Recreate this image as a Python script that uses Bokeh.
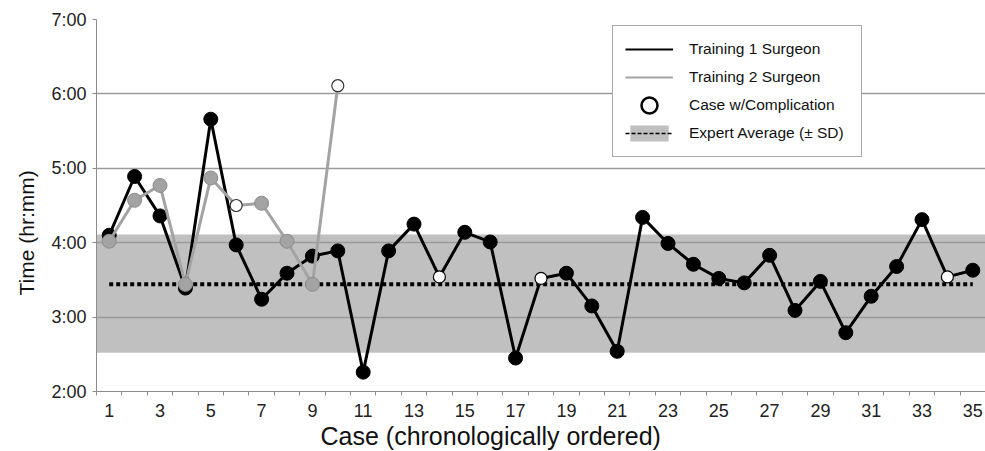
from bokeh.plotting import figure
from bokeh.models import (ColumnDataSource, FixedTicker, Legend, LegendItem, Range1d, Title)
from bokeh.embed import file_html
from bokeh.resources import INLINE

# ---- data (hours, decimal) ----
cases1 = list(range(1, 36))
train1 = [4.10, 4.89, 4.36, 3.39, 5.66, 3.97, 3.24, 3.59, 3.82, 3.89,
          2.26, 3.89, 4.25, 3.54, 4.14, 4.01, 2.45, 3.52, 3.59, 3.15,
          2.54, 4.34, 3.99, 3.71, 3.52, 3.46, 3.83, 3.09, 3.48, 2.79,
          3.28, 3.68, 4.31, 3.54, 3.63]
comp1 = [14, 18, 34]

cases2 = list(range(1, 11))
train2 = [4.02, 4.57, 4.77, 3.44, 4.87, 4.50, 4.53, 4.02, 3.44, 6.11]
comp2 = [6, 10]

expert_avg = 3.44
expert_low = 2.52
expert_high = 4.11

y_ticks = [2, 3, 4, 5, 6, 7]
y_tick_labels = ["2:00", "3:00", "4:00", "5:00", "6:00", "7:00"]
x_label_ticks = list(range(1, 36, 2))

FONT = "Liberation Sans"

p = figure(width=985, height=451, output_backend="svg", toolbar_location=None,
           x_range=Range1d(0.5, 35.5), y_range=Range1d(2, 7),
           min_border_left=96, min_border_right=0, min_border_top=19, min_border_bottom=60)
p.outline_line_color = None
p.background_fill_color = "white"

# band
band_src = ColumnDataSource(dict(left=[0.5], right=[35.5], bottom=[expert_low], top=[expert_high]))
p.quad(left="left", right="right", bottom="bottom", top="top", source=band_src,
       fill_color="#c0c0c0", line_color=None, level="image")

# expert average line
avg_src = ColumnDataSource(dict(x=[cases1[0], cases1[-1]], y=[expert_avg, expert_avg]))
p.line("x", "y", source=avg_src, line_color="black", line_width=4, line_dash="4 3")

# training 1
s1 = ColumnDataSource(dict(x=cases1, y=train1))
p.line("x", "y", source=s1, line_color="black", line_width=3)
n1 = [i for i, c in enumerate(cases1) if c not in comp1]
c1 = [i for i, c in enumerate(cases1) if c in comp1]
p.scatter([cases1[i] for i in n1], [train1[i] for i in n1], size=14, fill_color="black", line_color="black")
p.scatter([cases1[i] for i in c1], [train1[i] for i in c1], size=12, fill_color="white",
          line_color="black", line_width=1.2)

# training 2
s2 = ColumnDataSource(dict(x=cases2, y=train2))
p.line("x", "y", source=s2, line_color="#a3a3a3", line_width=3)
n2 = [i for i, c in enumerate(cases2) if c not in comp2]
c2 = [i for i, c in enumerate(cases2) if c in comp2]
p.scatter([cases2[i] for i in n2], [train2[i] for i in n2], size=14, fill_color="#a3a3a3",
          line_color="#8c8c8c", line_width=1)
p.scatter([cases2[i] for i in c2], [train2[i] for i in c2], size=12, fill_color="white",
          line_color="#333333", line_width=1.2)

# axes
p.yaxis.ticker = FixedTicker(ticks=y_ticks)
p.yaxis.major_label_overrides = {t: l for t, l in zip(y_ticks, y_tick_labels)}
p.yaxis.major_tick_in = 0
p.yaxis.major_tick_out = 4
p.yaxis.minor_tick_line_color = None
p.yaxis.major_tick_line_color = "#8c8c8c"

p.xaxis.ticker = FixedTicker(ticks=x_label_ticks, minor_ticks=[c - 0.5 for c in cases1] + [35.5])
p.xaxis.major_tick_line_color = None
p.xaxis.minor_tick_in = 0
p.xaxis.minor_tick_out = 4
p.xaxis.minor_tick_line_color = "#8c8c8c"

for ax in (p.xaxis[0], p.yaxis[0]):
    ax.axis_line_color = "#8c8c8c"
    ax.major_label_text_font = FONT
    ax.major_label_text_font_size = "18px"
    ax.major_label_text_color = "#222222"
p.xaxis.major_label_standoff = 6
p.yaxis.major_label_standoff = 6

# axis titles (placed like the original, slightly off-centre)
xt = Title(text="Case (chronologically ordered)", align="left", offset=224,
           text_font=FONT, text_font_size="25px", text_font_style="normal",
           text_color="#111111", standoff=0)
p.add_layout(xt, "below")
yt = Title(text="Time (hr:mm)", align="left", offset=96,
           text_font=FONT, text_font_size="21px", text_font_style="normal",
           text_color="#111111", standoff=21)
p.add_layout(yt, "left")

p.xgrid.grid_line_color = None
p.ygrid.grid_line_color = "#9a9a9a"
p.ygrid.grid_line_width = 1.3
p.ygrid.ticker = FixedTicker(ticks=y_ticks)

# legend proxy renderers (placed outside the visible range)
e = ColumnDataSource(dict(x=[-100, -99], y=[0, 0]))
lg1 = p.line("x", "y", source=e, line_color="black", line_width=2)
lg2 = p.line("x", "y", source=e, line_color="#a3a3a3", line_width=2)
lg3 = p.ellipse("x", "y", source=e, width=16, height=16, width_units="screen", height_units="screen",
                fill_color="white", line_color="black", line_width=2.5)
eq = ColumnDataSource(dict(left=[-100], right=[-99], bottom=[0], top=[1]))
lg4a = p.quad(left="left", right="right", bottom="bottom", top="top", source=eq,
              fill_color="#c0c0c0", line_color=None)
lg4b = p.line("x", "y", source=e, line_color="black", line_width=1.5, line_dash="4 2")

legend = Legend(items=[
    LegendItem(label="Training 1 Surgeon", renderers=[lg1]),
    LegendItem(label="Training 2 Surgeon", renderers=[lg2]),
    LegendItem(label="Case w/Complication", renderers=[lg3]),
    LegendItem(label="Expert Average (\u00b1 SD)", renderers=[lg4a, lg4b]),
], location=(516, 234))
legend.label_text_font = FONT
legend.label_text_font_size = "15.5px"
legend.label_text_color = "#111111"
legend.glyph_width = 48
legend.glyph_height = 20
legend.label_height = 22
legend.label_standoff = 16
legend.label_width = 160
legend.spacing = 6
legend.padding = 12
legend.margin = 0
legend.border_line_color = "#555555"
legend.border_line_width = 1
legend.background_fill_color = "white"
legend.background_fill_alpha = 1
p.add_layout(legend, "center")

open("out.html", "w").write(file_html(p, INLINE))
